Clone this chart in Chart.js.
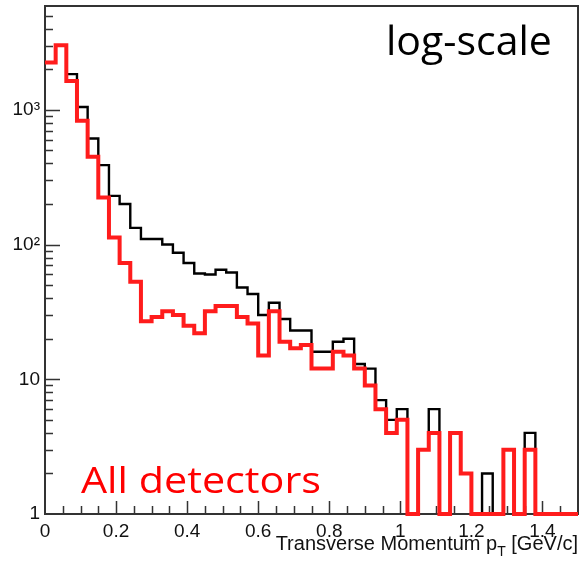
<!DOCTYPE html>
<html>
<head>
<meta charset="utf-8">
<title>Transverse momentum, log-scale</title>
<script src="https://cdn.jsdelivr.net/npm/chart.js@4"></script>
<style>
  html, body { margin: 0; padding: 0; background: #fff; }
  #wrap { width: 582px; height: 566px; }
</style>
</head>
<body>
<div id="wrap"><canvas id="ptChart" width="582" height="566"></canvas></div>
<script>
// Histogram binning, pT in GeV/c
const binWidth = 0.03;
const xMin = 0;
const xMax = 1.5;
const binLowEdges = Array.from({ length: 50 }, (_, i) => +(i * binWidth).toFixed(2));

// Counts per bin (0 = empty bin)
const allTracks = [2250, 3020, 1840, 1050, 613, 389, 230, 200, 133, 110,
  110, 100, 87, 73, 61, 60, 65, 62, 48, 43,
  30, 37, 28, 23, 23, 16, 16, 19, 20, 13,
  12, 7, 5, 6, 0, 3, 6, 0, 4, 2,
  0, 2, 0, 3, 0, 4, 0, 0, 0, 0];
const allDetectors = [2243, 3015, 1640, 829, 449, 224, 113, 73, 53, 27,
  29, 32, 30, 25, 22, 32, 35, 35, 29, 26,
  15, 32, 19, 17, 18, 12, 12, 16, 15, 12,
  9, 6, 4, 5, 0, 3, 4, 0, 4, 2,
  0, 0, 0, 3, 0, 3, 0, 0, 0, 0];

// Axis ticks
const xTickValues = [0, 0.2, 0.4, 0.6, 0.8, 1, 1.2, 1.4];
const xTickLabels = ['0', '0.2', '0.4', '0.6', '0.8', '1', '1.2', '1.4'];
const yTickValues = [1, 10, 100, 1000];
const yTickLabels = ['1', '10', '10\u00B2', '10\u00B3'];
const yMin = 1;
const yMax = 5900;

const axisFont = { family: '"Liberation Sans", Arial, sans-serif', size: 19 };
const axisColor = '#111';

// One point per bin low edge + closing point at the upper edge.
// Empty bins sit on the frame bottom like ROOT draws them on a log axis.
function stepPoints(values) {
  const pts = values.map((v, i) => ({ x: binLowEdges[i], y: Math.max(v, yMin) }));
  pts.push({ x: xMax, y: Math.max(values[values.length - 1], yMin) });
  return pts;
}

// ROOT-like frame with inward tick marks
const rootFrame = {
  id: 'rootFrame',
  beforeDatasetsDraw(chart) {
    const { ctx, chartArea: a, scales: { x, y } } = chart;
    ctx.save();
    ctx.strokeStyle = '#333';
    ctx.lineWidth = 2;
    ctx.strokeRect(a.left, a.top, a.right - a.left, a.bottom - a.top);

    ctx.lineWidth = 1.5;
    ctx.beginPath();
    // x ticks every 0.05, longer at each 0.2
    for (let k = 1; k * 0.05 < xMax; k++) {
      const px = Math.round(x.getPixelForValue(k * 0.05)) + 0.5;
      const len = k % 4 === 0 ? 13 : 8;
      ctx.moveTo(px, a.bottom);
      ctx.lineTo(px, a.bottom - len);
    }
    // y ticks, 1..9 per decade
    for (let d = 0; d < 4; d++) {
      for (let m = 1; m <= 9; m++) {
        const v = m * Math.pow(10, d);
        if (v <= yMin || v >= yMax) continue;
        const py = Math.round(y.getPixelForValue(v)) + 0.5;
        const len = m === 1 ? 15 : 8;
        ctx.moveTo(a.left, py);
        ctx.lineTo(a.left + len, py);
      }
    }
    ctx.stroke();
    ctx.restore();
  },
  afterDraw(chart) {
    const { ctx, chartArea: a } = chart;
    ctx.save();
    ctx.textBaseline = 'alphabetic';

    // x axis title, right aligned, with subscript T
    const big = '20px "Liberation Sans", Arial, sans-serif';
    const small = '14px "Liberation Sans", Arial, sans-serif';
    const part1 = 'Transverse Momentum p';
    const part2 = 'T';
    const part3 = ' [GeV/c]';
    ctx.fillStyle = axisColor;
    ctx.font = big;
    const w1 = ctx.measureText(part1).width;
    const w3 = ctx.measureText(part3).width;
    ctx.font = small;
    const w2 = ctx.measureText(part2).width;
    let tx = a.right - (w1 + w2 + w3);
    const ty = 550;
    ctx.font = big;
    ctx.fillText(part1, tx, ty);
    tx += w1;
    ctx.font = small;
    ctx.fillText(part2, tx, ty + 6);
    tx += w2;
    ctx.font = big;
    ctx.fillText(part3, tx, ty);

    // annotations
    ctx.fillStyle = '#000';
    ctx.font = '41px "Open Sans", sans-serif';
    ctx.fillText('log-scale', 386, 55);

    ctx.fillStyle = '#ff0000';
    ctx.font = '37px "Open Sans", sans-serif';
    const label = 'All detectors';
    const sx = 240 / ctx.measureText(label).width;
    ctx.translate(81, 493);
    ctx.scale(sx, 1);
    ctx.fillText(label, 0, 0);
    ctx.restore();
  }
};

const ctx = document.getElementById('ptChart').getContext('2d');
const ptChart = new Chart(ctx, {
  type: 'line',
  data: {
    datasets: [
      {
        label: 'All detectors',
        data: stepPoints(allDetectors),
        borderColor: 'rgb(255, 28, 28)',
        borderWidth: 4,
        stepped: true,
        pointRadius: 0,
        fill: false,
        clip: 6,
      },
      {
        label: 'All tracks',
        data: stepPoints(allTracks),
        borderColor: '#000',
        borderWidth: 2.4,
        stepped: true,
        pointRadius: 0,
        fill: false,
        clip: 6,
      },
    ],
  },
  options: {
    responsive: false,
    animation: false,
    layout: { padding: { top: 6, right: 4, left: 0, bottom: 0 } },
    plugins: {
      legend: { display: false },
      tooltip: { enabled: false },
    },
    scales: {
      x: {
        type: 'linear',
        min: xMin,
        max: xMax,
        grid: { display: false, drawTicks: false },
        border: { display: false },
        afterBuildTicks: s => { s.ticks = xTickValues.map(v => ({ value: v })); },
        afterFit: s => { s.height = 52; s.paddingLeft = 0; s.paddingRight = 0; },
        ticks: {
          autoSkip: false,
          maxRotation: 0,
          padding: 6,
          font: axisFont,
          color: axisColor,
          callback: (v, i) => xTickLabels[i],
        },
      },
      y: {
        type: 'logarithmic',
        min: yMin,
        max: yMax,
        grid: { display: false, drawTicks: false },
        border: { display: false },
        afterBuildTicks: s => { s.ticks = yTickValues.map(v => ({ value: v })); },
        afterFit: s => { s.width = 45; s.paddingTop = 0; s.paddingBottom = 0; },
        ticks: {
          autoSkip: false,
          padding: 5,
          font: axisFont,
          color: axisColor,
          callback: (v, i) => yTickLabels[i],
        },
      },
    },
  },
  plugins: [rootFrame],
});
</script>
</body>
</html>
